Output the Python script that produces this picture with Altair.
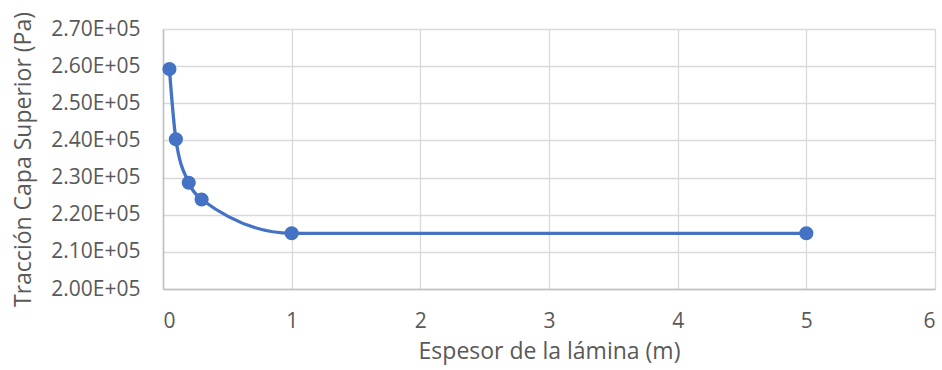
import altair as alt
import pandas as pd

espesor = [0.05, 0.1, 0.2, 0.3, 1, 5]
traccion = [259200, 240300, 228600, 224100, 215000, 215000]

df = pd.DataFrame({"espesor": espesor, "traccion": traccion})

FONT = "Open Sans"
TXT = "#595959"

x = alt.X("espesor:Q",
          scale=alt.Scale(domain=[0, 6], nice=False, zero=False),
          axis=alt.Axis(values=[0, 1, 2, 3, 4, 5, 6], format="d",
                        title="Espesor de la lámina (m)",
                        titleFont=FONT, titleFontSize=23, titleFontWeight="normal",
                        titleColor=TXT, titlePadding=9,
                        labelFont=FONT, labelFontSize=21, labelColor=TXT,
                        labelPadding=21,
                        grid=True, gridColor="#d9d9d9", gridWidth=1.3,
                        domainColor="#bfbfbf", domainWidth=1.5, ticks=False))
y = alt.Y("traccion:Q",
          scale=alt.Scale(domain=[200000, 270000], nice=False, zero=False),
          axis=alt.Axis(values=[200000, 210000, 220000, 230000, 240000, 250000, 260000, 270000],
                        labelExpr="format(datum.value/100000, '.2f') + 'E+05'",
                        title="Tracción Capa Superior (Pa)",
                        titleFont=FONT, titleFontSize=23, titleFontWeight="normal",
                        titleColor=TXT, titlePadding=15,
                        labelFont=FONT, labelFontSize=21, labelColor=TXT,
                        labelPadding=23,
                        grid=True, gridColor="#d9d9d9", gridWidth=1.3,
                        domainColor="#bfbfbf", domainWidth=1.5, ticks=False))

base = alt.Chart(df)
line = base.mark_line(color="#4472C4", strokeWidth=3.3, interpolate="monotone").encode(x=x, y=y)
pts = base.mark_circle(color="#4472C4", size=200, opacity=1).encode(x=x, y=y)

chart = (line + pts).properties(
    width=772, height=260,
    autosize=alt.AutoSizeParams(type="none"),
    padding={"left": 163, "top": 29, "right": 7, "bottom": 81},
).configure_view(stroke=None).configure(background="white")

chart.save("out.html", embed_options={"renderer": "svg", "actions": False})
